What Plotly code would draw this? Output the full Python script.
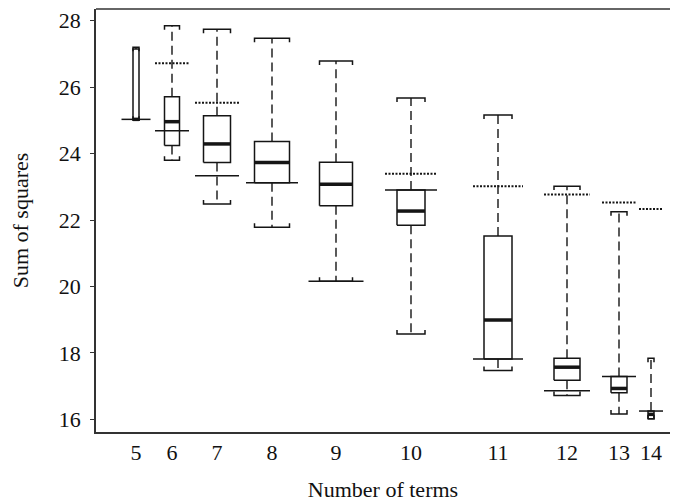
import plotly.graph_objects as go

# ---- data ----
terms = [5, 6, 7, 8, 9, 10, 11, 12, 13, 14]
q1 = [25.00, 24.24, 23.73, 23.12, 22.43, 21.84, 17.82, 17.18, 16.80, 16.02]
median = [25.03, 24.96, 24.29, 23.73, 23.08, 22.27, 18.99, 17.57, 16.93, 16.15]
q3 = [27.15, 25.71, 25.14, 24.36, 23.74, 22.90, 21.52, 17.84, 17.29, 16.25]
lower = [25.00, 23.80, 22.48, 21.78, 20.16, 18.57, 17.47, 16.72, 16.16, 16.02]
upper = [27.20, 27.85, 27.74, 27.47, 26.79, 25.67, 25.16, 23.02, 22.25, 17.84]
solid_ref = [25.03, 24.69, 23.33, 23.12, 20.16, 22.90, 17.82, 16.86, 17.29, 16.25]
dotted_ref = [None, 26.72, 25.53, None, None, 23.39, 23.02, 22.77, 22.53, 22.33]
y_ticks = [16, 18, 20, 22, 24, 26, 28]

# ---- layout of the (non-uniform) x scale ----
x_pos = [136, 172, 217, 272, 336, 411, 498, 567, 619, 651]
box_w = [6, 15, 27, 35, 33, 28, 28, 26, 16, 6]
ref_len = [29, 34, 44, 52, 55, 52, 50, 46, 34, 24]
cap_tick = 0.12

INK = "#151515"

bx, by, mx, my, wx, wy, sx, sy, dx, dy = ([] for _ in range(10))
for i in range(len(terms)):
    x = x_pos[i]
    h = box_w[i] / 2
    bx += [x - h, x + h, x + h, x - h, x - h, None]
    by += [q1[i], q1[i], q3[i], q3[i], q1[i], None]
    bx += [x - h, x - h, x + h, x + h, None]
    by += [upper[i] - cap_tick, upper[i], upper[i], upper[i] - cap_tick, None]
    bx += [x - h, x - h, x + h, x + h, None]
    by += [lower[i] + cap_tick, lower[i], lower[i], lower[i] + cap_tick, None]
    mx += [x - h, x + h, None]
    my += [median[i], median[i], None]
    wx += [x, x, None, x, x, None]
    wy += [q3[i], upper[i], None, q1[i], lower[i], None]
    L = ref_len[i] / 2
    sx += [x - L, x + L, None]
    sy += [solid_ref[i], solid_ref[i], None]
    if dotted_ref[i] is not None:
        dx += [x - L, x + L, None]
        dy += [dotted_ref[i], dotted_ref[i], None]

fig = go.Figure()
fig.add_trace(go.Scatter(x=wx, y=wy, mode="lines", line=dict(color=INK, width=1.4, dash="9px,5px"),
                         hoverinfo="skip"))
fig.add_trace(go.Scatter(x=bx, y=by, mode="lines", line=dict(color=INK, width=1.5), hoverinfo="skip"))
fig.add_trace(go.Scatter(x=mx, y=my, mode="lines", line=dict(color=INK, width=3.5), hoverinfo="skip"))
fig.add_trace(go.Scatter(x=sx, y=sy, mode="lines", line=dict(color=INK, width=1.5), hoverinfo="skip"))
fig.add_trace(go.Scatter(x=dx, y=dy, mode="lines", line=dict(color=INK, width=2, dash="2px,1.5px"),
                         hoverinfo="skip"))

font = dict(family="Liberation Serif, Times New Roman, serif", size=22, color="#111")

# page body adds an 8px offset, so the figure is 8px smaller than the window
fig.update_layout(
    width=670, height=496,
    margin=dict(l=88, r=8, t=1, b=72),
    paper_bgcolor="white", plot_bgcolor="white",
    showlegend=False,
    font=font,
    xaxis=dict(
        range=[96, 670], tickvals=x_pos, ticktext=[str(t) for t in terms],
        showgrid=False, zeroline=False, showline=True, linecolor="#333", linewidth=1.5,
        ticks="", automargin=False,
        title=dict(text="Number of terms", standoff=17, font=font),
        tickfont=font,
    ),
    yaxis=dict(
        range=[15.619, 28.352], tickvals=y_ticks,
        showgrid=False, zeroline=False, showline=True, linecolor="#333", linewidth=1.5,
        ticks="outside", ticklen=4, tickwidth=1.3, tickcolor="#333",
        ticklabelstandoff=5, automargin=False,
        title=dict(text="Sum of squares", standoff=36, font=font),
        tickfont=font,
    ),
    shapes=[dict(type="line", xref="paper", yref="paper", x0=0, x1=1, y0=1, y1=1,
                 line=dict(color="#333", width=1.5))],
)

fig.write_html("out.html")
